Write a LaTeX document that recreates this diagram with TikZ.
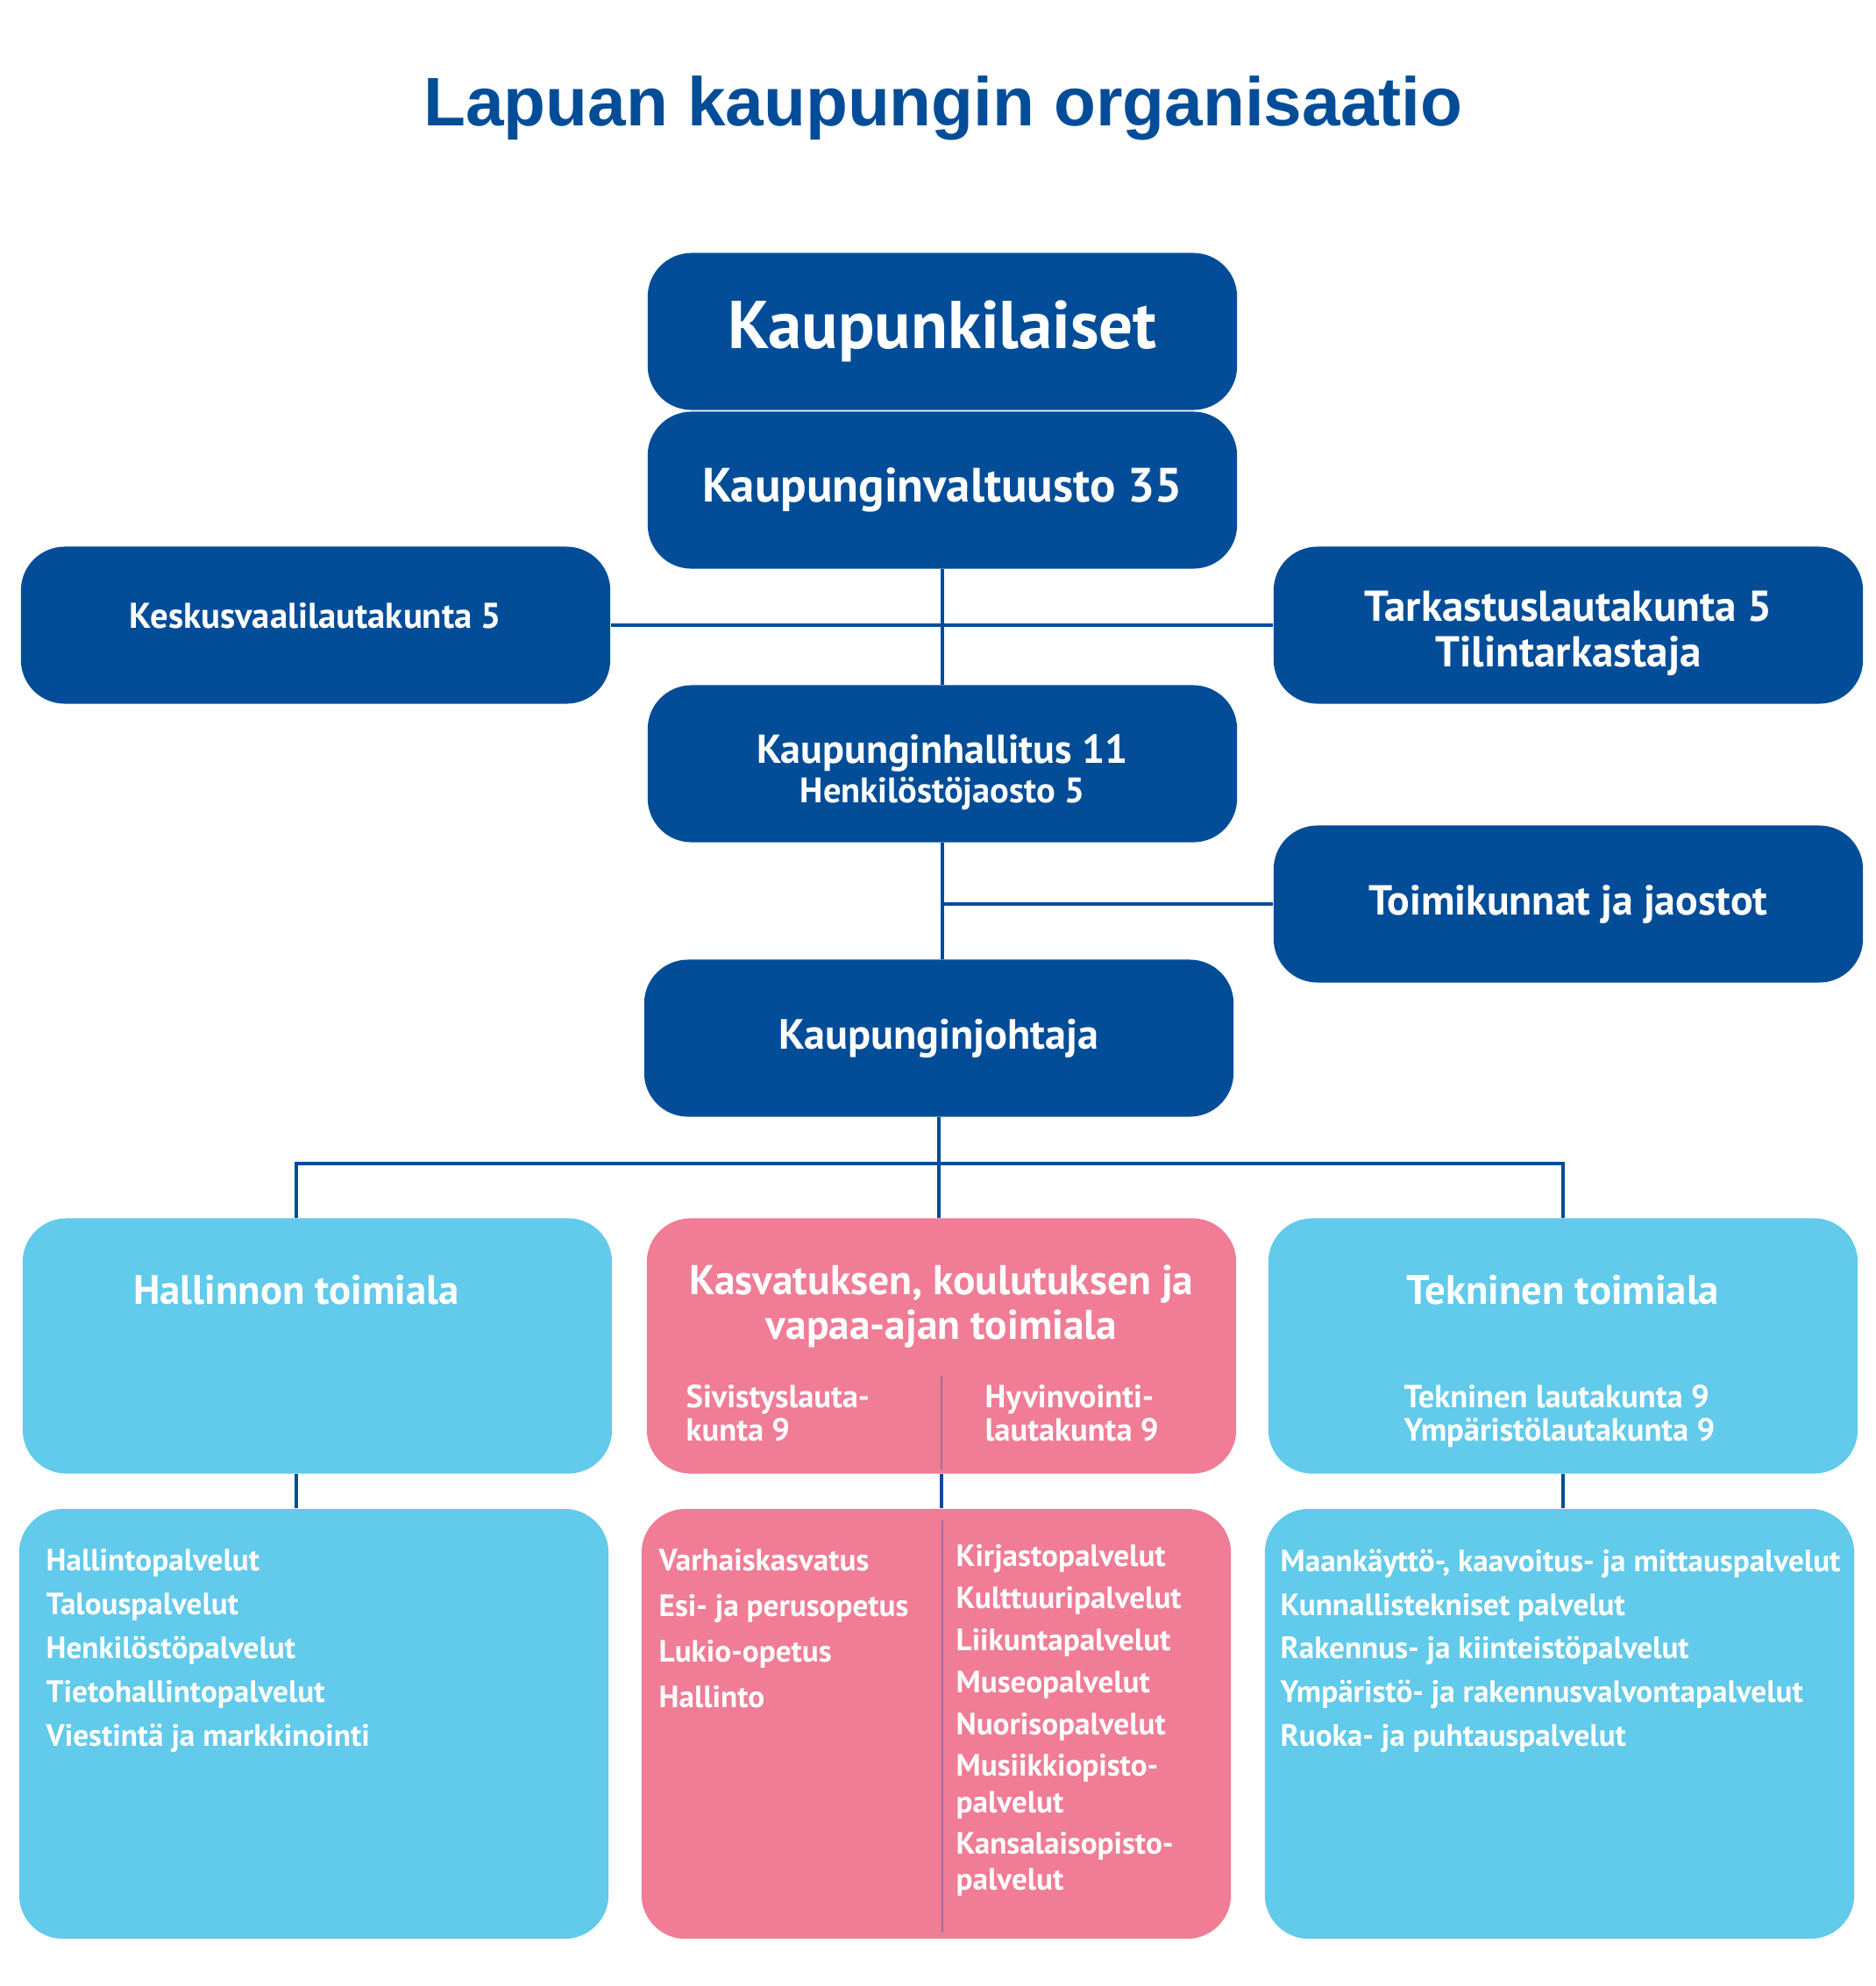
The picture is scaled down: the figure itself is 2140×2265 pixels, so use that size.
\documentclass[tikz,border=0pt]{standalone}
\usepackage{fontspec}
\setmainfont{PT Sans}
\newfontfamily\titlefont{Liberation Sans}
\usetikzlibrary{positioning,calc}

\definecolor{lpblue}{RGB}{3,77,152}
\definecolor{lpcyan}{RGB}{98,202,234}
\definecolor{lppink}{RGB}{240,124,149}
\definecolor{lpdiv}{RGB}{165,110,150}

\begin{document}
\begin{tikzpicture}[x=0.01cm,y=-0.01cm,
  box/.style={rounded corners=0.5cm,minimum width=6.72cm,text=white,align=center,inner sep=0pt},
  orgbox/.style={box,fill=lpblue,minimum height=1.79cm},
  unitbox/.style={box,fill=#1,minimum height=2.91cm},
  listbox/.style={box,fill=#1,minimum height=4.9cm},
  link/.style={draw=lpblue,line width=1.1pt},
  divider/.style={draw=lpdiv,line width=0.8pt},
  items/.style={text=white,align=left,anchor=north west,inner sep=0pt}
]
\useasboundingbox (0,0) rectangle (2140,2265);

\node[text=lpblue,font=\titlefont\bfseries\fontsize{22.3}{26}\selectfont] (title) at (1076,123) {Lapuan kaupungin organisaatio};

\node[orgbox,font=\bfseries\fontsize{21.9}{24}\selectfont] (kl) at (1075,378) {Kaupunkilaiset};
\node[orgbox,font=\bfseries\fontsize{15.6}{18}\selectfont] (kv) at (1075,559) {Kaupunginvaltuusto 35};
\node[orgbox,font=\bfseries\fontsize{11.6}{14}\selectfont,text depth=0.22cm] (kvl) at (360,713) {Keskusvaalilautakunta 5};
\node[orgbox,font=\bfseries\fontsize{14}{14.8}\selectfont] (tl) at (1789,713) {\rule{0pt}{15pt}Tarkastuslautakunta 5\\Tilintarkastaja};
\node[orgbox,font=\bfseries\fontsize{13.1}{12.8}\selectfont] (kh) at (1075,871) {\rule{0pt}{15pt}Kaupunginhallitus 11\\{\fontsize{11.5}{12.8}\selectfont Henkilöstöjaosto 5}};
\node[orgbox,font=\bfseries\fontsize{13.6}{16}\selectfont] (tj) at (1789,1031) {Toimikunnat ja jaostot};
\node[orgbox,font=\bfseries\fontsize{13.7}{16}\selectfont] (kj) at (1071,1184) {Kaupunginjohtaja};

\node[unitbox=lpcyan] (ht) at (362,1535) {};
\node[unitbox=lppink] (kt) at (1074,1535) {};
\node[unitbox=lpcyan] (tt) at (1783,1535) {};
\node[text=white,font=\bfseries\fontsize{13.3}{14.5}\selectfont] (ht-name) at (338,1471) {Hallinnon toimiala};
\node[text=white,align=center,font=\bfseries\fontsize{13.5}{14.5}\selectfont] (kt-name) at (1074,1490) {Kasvatuksen, koulutuksen ja\\vapaa-ajan toimiala};
\node[text=white,font=\bfseries\fontsize{13.3}{14.5}\selectfont] (tt-name) at (1783,1471) {Tekninen toimiala};
\node[items,font=\bfseries\fontsize{10.4}{10.8}\selectfont] (kt-siv) at (782,1579) {Sivistyslauta-\\kunta 9};
\node[items,font=\bfseries\fontsize{10.4}{10.8}\selectfont] (kt-hyv) at (1123,1579) {Hyvinvointi-\\lautakunta 9};
\node[items,font=\bfseries\fontsize{10.4}{10.8}\selectfont] (tt-lk) at (1601,1579) {Tekninen lautakunta 9\\Ympäristölautakunta 9};
\draw[divider] ($(kt.south)+(0,-5)$) -- ($(kt.south)+(0,-112)$);

\node[listbox=lpcyan] (hp) at (358,1966) {};
\node[listbox=lppink] (kp) at (1068,1966) {};
\node[listbox=lpcyan] (tp) at (1779,1966) {};
\node[items,font=\bfseries\fontsize{10}{14.2}\selectfont] (hp-list) at (52,1766) {Hallintopalvelut\\Talouspalvelut\\Henkilöstöpalvelut\\Tietohallintopalvelut\\Viestintä ja markkinointi};
\node[items,font=\bfseries\fontsize{10}{14.8}\selectfont] (kp-left) at (751,1766) {Varhaiskasvatus\\Esi- ja perusopetus\\Lukio-opetus\\Hallinto};
\node[items,font=\bfseries\fontsize{10}{11.7}\selectfont] (kp-right) at (1090,1761) {Kirjastopalvelut\\[1.9pt]Kulttuuripalvelut\\[1.9pt]Liikuntapalvelut\\[1.9pt]Museopalvelut\\[1.9pt]Nuorisopalvelut\\[1.9pt]Musiikkiopisto-\\palvelut\\[1.9pt]Kansalaisopisto-\\palvelut};
\node[items,font=\bfseries\fontsize{10}{14.2}\selectfont] (tp-list) at (1460,1766) {Maankäyttö-, kaavoitus- ja mittauspalvelut\\Kunnallistekniset palvelut\\Rakennus- ja kiinteistöpalvelut\\Ympäristö- ja rakennusvalvontapalvelut\\Ruoka- ja puhtauspalvelut};
\draw[divider] (1075,1734) -- (1075,2204);

\draw[link] (kv.south) -- (kh.north);
\draw[link] (kvl.east) -- (tl.west);
\draw[link] (kh.south) -- (kh.south |- kj.north);
\draw[link] (kh.south |- tj.west) -- (tj.west);
\coordinate (bus) at (1071,1327);
\draw[link] (kj.south) -- (kj.south |- kt.north);
\draw[link] (ht-name |- ht.north) |- (bus) -| (tt.north);
\draw[link] (ht-name |- ht.south) -- (ht-name |- hp.north);
\draw[link] (kt.south) -- (kt.south |- kp.north);
\draw[link] (tt.south) -- (tt.south |- tp.north);
\end{tikzpicture}
\end{document}
